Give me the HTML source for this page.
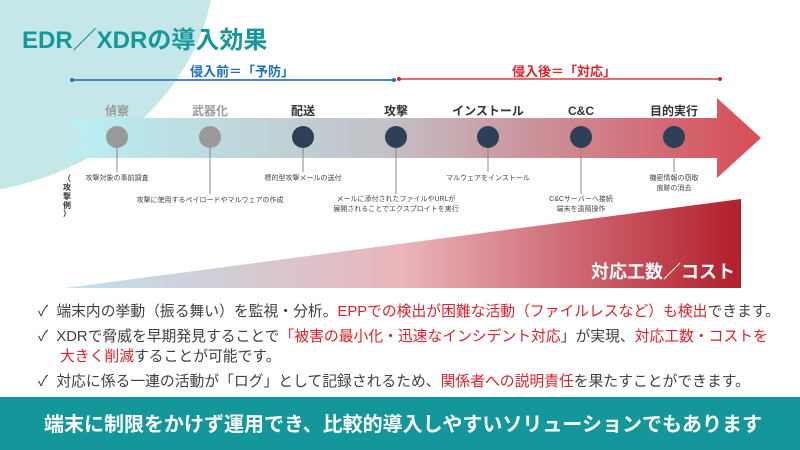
<!DOCTYPE html>
<html><head><meta charset="utf-8"><style>
body{margin:0;width:800px;height:450px;overflow:hidden;background:#fff;font-family:"Liberation Sans","Noto Sans CJK JP",sans-serif;}
.b{position:absolute;left:38px;font-size:14.8px;color:#404040;white-space:nowrap;}
.r{color:#e0202a;}
</style></head><body>
<svg width="800" height="450" style="position:absolute;left:0;top:0" font-family="Liberation Sans, Noto Sans CJK JP, sans-serif">
<defs>
<linearGradient id="ga" x1="0" x2="1"><stop offset="0" stop-color="#b8f0f4"/><stop offset="0.45" stop-color="#c3c3c8"/><stop offset="1" stop-color="#d84c57"/></linearGradient>
<linearGradient id="gt" x1="0" x2="1"><stop offset="0" stop-color="#bde2ee"/><stop offset="0.5" stop-color="#eab5bb"/><stop offset="1" stop-color="#b21e2b"/></linearGradient>
</defs>
<ellipse cx="-60" cy="-40" rx="275" ry="235" fill="#c6e7e9"/>
<text x="22" y="48" font-size="24" font-weight="bold" fill="#14989a">EDR／XDRの導入効果</text>
<text x="190" y="76" font-size="13" font-weight="bold" fill="#1a6fc0">侵入前＝「予防」</text>
<text x="512" y="76" font-size="13" font-weight="bold" fill="#e0202a">侵入後＝「対応」</text>
<line x1="72" y1="80" x2="394" y2="80" stroke="#4a86c0" stroke-width="2"/>
<line x1="398" y1="79" x2="720" y2="79" stroke="#e07075" stroke-width="2"/>
<circle cx="72" cy="80" r="2" fill="#2a6db0"/><circle cx="394" cy="80" r="2" fill="#2a6db0"/><circle cx="399" cy="79" r="2" fill="#e0202a"/><circle cx="720" cy="79" r="2" fill="#e0202a"/>
<polygon points="65,118 717,118 717,98 761,138 717,178 717,158 65,158 85,138" fill="url(#ga)"/>
<g font-size="12" font-weight="bold" text-anchor="middle">
<text x="117" y="115" fill="#999">偵察</text><text x="210" y="115" fill="#999">武器化</text>
<text x="303" y="115" fill="#333">配送</text><text x="396" y="115" fill="#333">攻撃</text>
<text x="488" y="115" fill="#333">インストール</text><text x="581" y="115" fill="#333">C&amp;C</text><text x="674" y="115" fill="#333">目的実行</text>
</g>
<g stroke="#888" stroke-width="1">
<line x1="117" y1="137" x2="117" y2="172"/><line x1="210" y1="137" x2="210" y2="194"/><line x1="303" y1="137" x2="303" y2="172"/><line x1="396" y1="137" x2="396" y2="194"/><line x1="488" y1="137" x2="488" y2="172"/><line x1="581" y1="137" x2="581" y2="194"/><line x1="674" y1="137" x2="674" y2="172"/>
</g>
<circle cx="117" cy="137" r="11" fill="#999"/><circle cx="210" cy="137" r="11" fill="#999"/>
<g fill="#2e4057"><circle cx="303" cy="137" r="11"/><circle cx="396" cy="137" r="11"/><circle cx="488" cy="137" r="11"/><circle cx="581" cy="137" r="11"/><circle cx="674" cy="137" r="11"/></g>
<g font-size="7" fill="#444" text-anchor="middle">
<text x="117" y="180">攻撃対象の事前調査</text>
<text x="210" y="202">攻撃に使用するペイロードやマルウェアの作成</text>
<text x="303" y="180">標的型攻撃メールの送付</text>
<text x="396" y="201">メールに添付されたファイルやURLが</text><text x="396" y="211">展開されることでエクスプロイトを実行</text>
<text x="488" y="180">マルウェアをインストール</text>
<text x="581" y="201">C&amp;Cサーバーへ接続</text><text x="581" y="211">端末を遠隔操作</text>
<text x="674" y="180">機密情報の窃取</text><text x="674" y="190">痕跡の消去</text>
</g>
<g font-size="8" font-weight="bold" fill="#333" text-anchor="middle">
<text x="67" y="181">（</text><text x="67" y="190">攻</text><text x="67" y="199">撃</text><text x="67" y="208">例</text><text x="67" y="216">）</text>
</g>
<polygon points="65,288 741,199 741,288" fill="url(#gt)"/>
<text x="735" y="278" font-size="18" font-weight="bold" fill="#fff" text-anchor="end">対応工数／コスト</text>
<rect x="0" y="397" width="800" height="53" fill="#14979a"/>
<text x="403" y="431" font-size="20" font-weight="bold" fill="#fff" text-anchor="middle">端末に制限をかけず運用でき、比較的導入しやすいソリューションでもあります</text>
</svg>
<div class="b" style="top:300px">✓&nbsp; 端末内の挙動（振る舞い）を監視・分析。<span class="r">EPPでの検出が困難な活動（ファイルレスなど）も検出</span>できます。</div>
<div class="b" style="top:325px">✓&nbsp; XDRで脅威を早期発見することで<span class="r">「被害の最小化・迅速なインシデント対応</span>」が実現、<span class="r">対応工数・コストを</span></div>
<div class="b" style="top:345px;left:60px"><span class="r">大きく削減</span>することが可能です。</div>
<div class="b" style="top:370px">✓&nbsp; 対応に係る一連の活動が「ログ」として記録されるため、<span class="r">関係者への説明責任</span>を果たすことができます。</div>
</body></html>
